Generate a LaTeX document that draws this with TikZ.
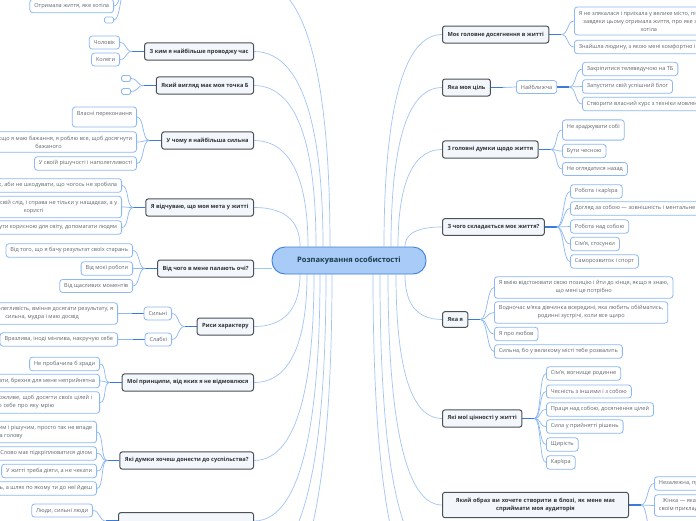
\documentclass[tikz,border=0pt]{standalone}
\usepackage{fontspec}
\setmainfont{Open Sans}
\usetikzlibrary{backgrounds}

\definecolor{rootfill}{HTML}{A8CBF7}
\definecolor{rootline}{HTML}{3F80DA}
\definecolor{roottext}{HTML}{1D3B4E}
\definecolor{topicline}{HTML}{4B5158}
\definecolor{topicfill}{HTML}{F3F6FA}
\definecolor{topictext}{HTML}{2F343A}
\definecolor{leafline}{HTML}{8CB8F3}
\definecolor{leaftext}{HTML}{62676E}
\definecolor{trunkcol}{HTML}{A3C5F5}
\definecolor{stubcol}{HTML}{3A7BDA}

\tikzset{
  root/.style={draw=rootline, fill=rootfill, line width=0.9pt, rounded corners=13pt,
    text=roottext, font=\fontsize{7.5}{9}\selectfont\bfseries, minimum width=154pt, minimum height=27pt},
  topic/.style={draw=topicline, fill=topicfill, line width=1pt, rounded corners=2.5pt,
    text=topictext, font=\fontsize{5.65}{8}\selectfont\bfseries, inner xsep=5pt, inner ysep=5.8pt, align=center},
  leaf/.style={draw=leafline, fill=white, line width=0.8pt, rounded corners=3pt,
    text=leaftext, font=\fontsize{5.6}{8}\selectfont, inner xsep=4.5pt, inner ysep=4pt,
    minimum height=13pt, align=center},
  tall/.style={text depth=8pt},
  blank/.style={draw=leafline, fill=white, line width=0.8pt, rounded corners=1.5pt,
    minimum width=9pt, minimum height=6pt, inner sep=0pt},
  trunk/.style={draw=trunkcol, line width=0.7pt},
  stub/.style={draw=stubcol, line width=1.4pt},
  twig/.style={draw=leafline, line width=0.7pt},
}

\begin{document}
\begin{tikzpicture}[x=1pt,y=-1pt]
\useasboundingbox (0,0) rectangle (696,520);

% centre
\node[root] (c) at (349,260.5) {Розпакування особистості};

% left topics
\node[topic, anchor=east] (L1) at (254,51.5) {З ким я найбільше проводжу час};
\node[topic, anchor=east] (L2) at (254,85.5) {Який вигляд має моя точка Б};
\node[topic, anchor=east] (L3) at (254,140.5) {У чому я найбільша сильна};
\node[topic, anchor=east] (L4) at (254,207.5) {Я відчуваю, що моя мета у житті};
\node[topic, anchor=east] (L5) at (254,268.5) {Від чого в мене палають очі?};
\node[topic, anchor=east] (L6) at (254,326.5) {Риси характеру};
\node[topic, anchor=east] (L7) at (254,382.5) {Мої принципи, від яких я не відмовлюся};
\node[topic, anchor=east] (L8) at (254,460.5) {Які думки хочеш донести до суспільства?};
\node[topic, anchor=east, minimum width=135pt, minimum height=17pt] (L9) at (254,521) {};

% right topics
\node[topic, anchor=west] (R1) at (442,34.5) {Моє головне досягнення в житті};
\node[topic, anchor=west] (R2) at (442,87.5) {Яка моя ціль};
\node[topic, anchor=west] (R3) at (442,149.5) {3 головні думки щодо життя};
\node[topic, anchor=west] (R4) at (442,227) {З чого складається моє життя?};
\node[topic, anchor=west] (R5) at (442,319.5) {Яка я};
\node[topic, anchor=west] (R6) at (442,418.5) {Які мої цінності у житті};
\node[topic, anchor=west, text width=176pt] (R7) at (442,505) {Який образ ви хочете створити в блозі, як мене має\\сприймати моя аудиторія};

% topics outside the page
\coordinate (hL) at (254,-20);
\coordinate (hLb) at (128,-20);
\coordinate (hL1) at (254,565);
\coordinate (hL2) at (254,610);
\coordinate (hR1) at (442,565);
\coordinate (hR2) at (442,610);
\coordinate (r7c) at (654,540);

% left leaves
\node[leaf, anchor=east] (h1) at (114,6) {Отримала життя, яке хотіла};
\node[blank, anchor=east] (h2) at (114,20) {};

\node[leaf, anchor=east] (l11) at (120,42.5) {Чоловік};
\node[leaf, anchor=east] (l12) at (120,59.5) {Колеги};

\node[blank, anchor=east] (l21) at (131,78.5) {};
\node[blank, anchor=east] (l22) at (131,91.5) {};

\node[leaf, tall, anchor=east] (l31) at (137,117) {Власні переконання};
\node[leaf, anchor=east] (l32) at (137,142) {У тому, що якщо я маю бажання, я роблю все, щоб досягнути\\бажаного};
\node[leaf, anchor=east] (l33) at (137,163.5) {У своїй рішучості і наполегливості};

\node[leaf, anchor=east] (l41) at (122,185.5) {Прожити життя так, аби не шкодувати, що чогось не зробила};
\node[leaf, anchor=east] (l42) at (122,207) {Залишити по собі свій слід, і справа не тільки у нащадках, а у\\користі};
\node[leaf, anchor=east] (l43) at (122,227.5) {Я хочу бути корисною для світу, допомагати людям};

\node[leaf, anchor=east] (l51) at (133,250.5) {Від того, що я бачу результат своїх старань};
\node[leaf, anchor=east] (l52) at (133,268.5) {Від моєї роботи};
\node[leaf, anchor=east] (l53) at (133,286) {Від щасливих моментів};

\node[leaf, anchor=east] (l61) at (172,313.5) {Сильні};
\node[leaf, anchor=east] (l62) at (172,339.5) {Слабкі};
\node[leaf, anchor=east] (l611) at (118,313.5) {Сила, наполегливість, вміння досягати результату, я\\сильна, мудра і маю досвід};
\node[leaf, anchor=east] (l621) at (118,339.5) {Вразлива, іноді мінлива, накручую себе};

\node[leaf, anchor=east] (l71) at (100,364) {Не пробачила б зради};
\node[leaf, anchor=east] (l72) at (100,381) {Не брехати, брехня для мене неприйнятна};
\node[leaf, anchor=east, text width=172pt] (l73) at (100,402.5) {Робити все можливе і неможливе, щоб досягти своїх цілей і\\стати версією себе про яку мрію};

\node[leaf, anchor=east] (l81) at (97,432) {Потрібно бути наполегливим і рішучим, просто так не впаде\\на голову};
\node[leaf, anchor=east] (l82) at (97,453.5) {Слово має підкріплюватися ділом};
\node[leaf, anchor=east] (l83) at (97,471) {У житті треба діяти, а не чекати};
\node[leaf, anchor=east] (l84) at (97,488.5) {Важлива не ціль, а шлях по якому ти до неї йдеш};

\node[leaf, anchor=east] (l91) at (93,510.5) {Люди, сильні люди};

% right leaves
\node[leaf, anchor=west] (r11) at (574,21) {Я не злякалася і приїхала у велике місто, після чого\\завдяки цьому отримала життя, про яке завжди\\хотіла};
\node[leaf, anchor=west] (r12) at (574,47) {Знайшла людину, з якою мені комфортно і спокійно};

\node[leaf, anchor=west] (r21) at (516,87) {Найближча};
\node[leaf, anchor=west] (r211) at (582,69) {Закріпитися телеведучою на ТБ};
\node[leaf, anchor=west] (r212) at (582,86.5) {Запустити свій успішний блог};
\node[leaf, anchor=west] (r213) at (582,104) {Створити власний курс з техніки мовлення};

\node[leaf, tall, anchor=west] (r31) at (562,130) {Не зраджувати собі};
\node[leaf, anchor=west] (r32) at (562,151) {Бути чесною};
\node[leaf, anchor=west] (r33) at (562,169) {Не оглядатися назад};

\node[leaf, anchor=west] (r41) at (570,191.5) {Робота і кар'єра};
\node[leaf, anchor=west] (r42) at (570,208.5) {Догляд за собою — зовнішність і ментальне здоров'я};
\node[leaf, anchor=west] (r43) at (570,226.5) {Робота над собою};
\node[leaf, anchor=west] (r44) at (570,244) {Сім'я, стосунки};
\node[leaf, anchor=west] (r45) at (570,261.5) {Саморозвиток і спорт};

\node[leaf, anchor=west] (r51) at (494,287.5) {Я вмію відстоювати свою позицію і йти до кінця, якщо я знаю,\\що мені це потрібно};
\node[leaf, anchor=west] (r52) at (494,312.5) {Водночас м'яка дівчинка всередині, яка любить обійматись,\\родинні зустрічі, коли все щиро};
\node[leaf, anchor=west] (r53) at (494,334) {Я про любов};
\node[leaf, anchor=west] (r54) at (494,351.5) {Сильна, бо у великому місті тебе розвалить};

\node[leaf, anchor=west] (r61) at (546,373.5) {Сім'я, вогнище родинне};
\node[leaf, anchor=west] (r62) at (546,391.5) {Чесність з іншими і з собою};
\node[leaf, anchor=west] (r63) at (546,409.5) {Праця над собою, досягнення цілей};
\node[leaf, anchor=west] (r64) at (546,426.5) {Сила у прийнятті рішень};
\node[leaf, anchor=west] (r65) at (546,444.5) {Щирість};
\node[leaf, anchor=west] (r66) at (546,462.5) {Кар'єра};

\node[leaf, anchor=west] (r71) at (654,483.5) {Незалежна, приваблива};
\node[leaf, anchor=west] (r72) at (654,505.5) {Жінка — яка надихає\\своїм прикладом інших};

\begin{scope}[on background layer]
  \fill[white] (0,0) rectangle (696,520);

  % centre to topics, upper left
  \draw[trunk] ([xshift=-19pt]c.north) .. controls +(0,-136) and +(61,0) .. (hL);
  \draw[trunk] ([xshift=-26pt]c.north) .. controls +(0,-98) and +(55,0) .. (L1.east);
  \draw[trunk] ([xshift=-33pt]c.north) .. controls +(0,-81) and +(50,0) .. (L2.east);
  \draw[trunk] ([xshift=-41pt]c.north) .. controls +(0,-53) and +(43,0) .. (L3.east);
  \draw[trunk] ([xshift=-49pt]c.north) .. controls +(0,-20) and +(37,0) .. (L4.east);
  \draw[trunk] (L5.east) -- (L5.east -| c.west);
  % lower left
  \draw[trunk] ([xshift=-49pt]c.south) .. controls +(0,26) and +(37,0) .. (L6.east);
  \draw[trunk] ([xshift=-42pt]c.south) .. controls +(0,54) and +(42,0) .. (L7.east);
  \draw[trunk] ([xshift=-35pt]c.south) .. controls +(0,93) and +(48,0) .. (L8.east);
  \draw[trunk] ([xshift=-29pt]c.south) .. controls +(0,123) and +(53,0) .. (L9.east);
  \draw[trunk] ([xshift=-23pt]c.south) .. controls +(0,148) and +(58,0) .. (hL1);
  \draw[trunk] ([xshift=-17pt]c.south) .. controls +(0,173) and +(62,0) .. (hL2);
  % upper right
  \draw[trunk] ([xshift=35pt]c.north) .. controls +(0,-106) and +(-46,0) .. (R1.west);
  \draw[trunk] ([xshift=42pt]c.north) .. controls +(0,-80) and +(-41,0) .. (R2.west);
  \draw[trunk] ([xshift=49pt]c.north) .. controls +(0,-49) and +(-35,0) .. (R3.west);
  \draw[trunk] ([xshift=56pt]c.north) .. controls +(0,-10) and +(-30,0) .. (R4.west);
  % lower right
  \draw[trunk] ([xshift=56pt]c.south) .. controls +(0,23) and +(-30,0) .. (R5.west);
  \draw[trunk] ([xshift=47pt]c.south) .. controls +(0,72) and +(-37,0) .. (R6.west);
  \draw[trunk] ([xshift=39pt]c.south) .. controls +(0,115) and +(-43,0) .. (R7.west);
  \draw[trunk] ([xshift=31pt]c.south) .. controls +(0,148) and +(-50,0) .. (hR1);
  \draw[trunk] ([xshift=24pt]c.south) .. controls +(0,173) and +(-55,0) .. (hR2);

  % topics to leaves, left
  \foreach \n in {h1,h2}
    \draw[twig] (hLb) .. controls +(-7,0) and +(7,0) .. (\n.east);
  \foreach \t/\leaves in {L1/{l11,l12}, L2/{l21,l22}, L3/{l31,l32,l33}, L4/{l41,l42,l43},
      L5/{l51,l52,l53}, L6/{l61,l62}, L7/{l71,l72,l73}, L8/{l81,l82,l83,l84}, L9/{l91},
      l61/{l611}, l62/{l621}}{
    \draw[stub] (\t.west) -- ++(-12,0) coordinate (b\t);
    \foreach \n in \leaves
      \draw[twig] (b\t) .. controls +(-7,0) and +(7,0) .. (\n.east);
  }
  % topics to leaves, right
  \foreach \t/\leaves in {R1/{r11,r12}, R2/{r21}, r21/{r211,r212,r213}, R3/{r31,r32,r33},
      R4/{r41,r42,r43,r44,r45}, R5/{r51,r52,r53,r54}, R6/{r61,r62,r63,r64,r65,r66},
      R7/{r71,r72}}{
    \draw[stub] (\t.east) -- ++(12,0) coordinate (b\t);
    \foreach \n in \leaves
      \draw[twig] (b\t) .. controls +(7,0) and +(-7,0) .. (\n.west);
  }
  \draw[twig] (bR7) .. controls +(7,0) and +(-7,0) .. (r7c);
\end{scope}
\end{tikzpicture}
\end{document}
